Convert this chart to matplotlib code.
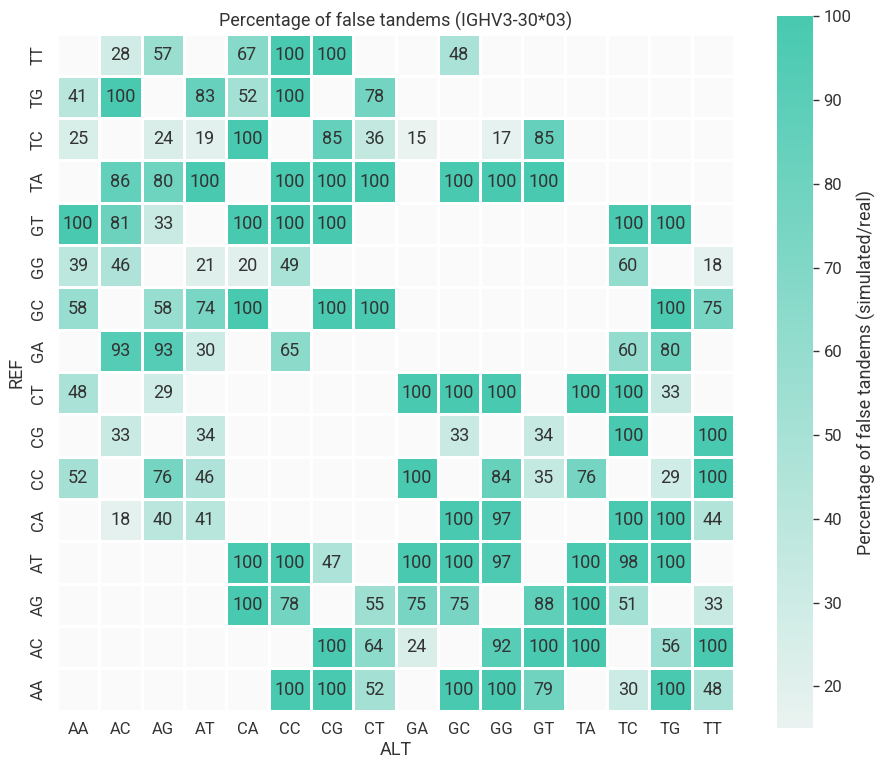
import numpy as np
import matplotlib
matplotlib.use("Agg")
import matplotlib.pyplot as plt
import seaborn as sns

# data
ref = ["TT", "TG", "TC", "TA", "GT", "GG", "GC", "GA",
       "CT", "CG", "CC", "CA", "AT", "AG", "AC", "AA"]
alt = ["AA", "AC", "AG", "AT", "CA", "CC", "CG", "CT",
       "GA", "GC", "GG", "GT", "TA", "TC", "TG", "TT"]
n = None
values = [
    [n, 28, 57, n, 67, 100, 100, n, n, 48, n, n, n, n, n, n],       # TT
    [41, 100, n, 83, 52, 100, n, 78, n, n, n, n, n, n, n, n],       # TG
    [25, n, 24, 19, 100, n, 85, 36, 15, n, 17, 85, n, n, n, n],     # TC
    [n, 86, 80, 100, n, 100, 100, 100, n, 100, 100, 100, n, n, n, n],  # TA
    [100, 81, 33, n, 100, 100, 100, n, n, n, n, n, n, 100, 100, n],  # GT
    [39, 46, n, 21, 20, 49, n, n, n, n, n, n, n, 60, n, 18],        # GG
    [58, n, 58, 74, 100, n, 100, 100, n, n, n, n, n, n, 100, 75],   # GC
    [n, 93, 93, 30, n, 65, n, n, n, n, n, n, n, 60, 80, n],         # GA
    [48, n, 29, n, n, n, n, n, 100, 100, 100, n, 100, 100, 33, n],  # CT
    [n, 33, n, 34, n, n, n, n, n, 33, n, 34, n, 100, n, 100],       # CG
    [52, n, 76, 46, n, n, n, n, 100, n, 84, 35, 76, n, 29, 100],    # CC
    [n, 18, 40, 41, n, n, n, n, n, 100, 97, n, n, 100, 100, 44],    # CA
    [n, n, n, n, 100, 100, 47, n, 100, 100, 97, n, 100, 98, 100, n],  # AT
    [n, n, n, n, 100, 78, n, 55, 75, 75, n, 88, 100, 51, n, 33],    # AG
    [n, n, n, n, n, n, 100, 64, 24, n, 92, 100, 100, n, 56, 100],   # AC
    [n, n, n, n, n, 100, 100, 52, n, 100, 100, 79, n, 30, 100, 48], # AA
]

plt.rcParams["font.family"] = ["Roboto", "DejaVu Sans"]
txt = "#333333"

arr = np.array([[np.nan if v is None else v for v in row] for row in values], dtype=float)
data = np.ma.masked_invalid(arr)

cmap = sns.light_palette("#48c9b0", as_cmap=True)
cmap.set_bad("#fafafa")

fig = plt.figure(figsize=(8.77, 7.6), dpi=100)
ax = fig.add_axes([0.065, 0.0649, 0.772, 0.891])
cax = fig.add_axes([0.886, 0.0417, 0.041, 0.937])

mesh = ax.pcolormesh(data, cmap=cmap, vmin=15, vmax=100,
                     edgecolors="white", linewidth=1)
ax.set_xlim(0, len(alt))
ax.set_ylim(len(ref), 0)

for i in range(len(ref)):
    for j in range(len(alt)):
        if not np.isnan(arr[i, j]):
            ax.text(j + 0.5, i + 0.5, f"{int(arr[i, j])}", ha="center", va="center",
                    fontsize=13, color=txt)

ax.set_xticks(np.arange(len(alt)) + 0.5)
ax.set_xticklabels(alt, fontsize=12, color=txt)
ax.set_yticks(np.arange(len(ref)) + 0.5)
ax.set_yticklabels(ref, fontsize=12, color=txt, rotation=90, va="center")
ax.tick_params(length=0, pad=8)
for s in ax.spines.values():
    s.set_visible(False)
ax.set_xlabel("ALT", fontsize=13, color=txt, labelpad=3)
ax.set_ylabel("REF", fontsize=13, color=txt, labelpad=4)
ax.set_title("Percentage of false tandems (IGHV3-30*03)", fontsize=13, color=txt, pad=5)

cb = fig.colorbar(mesh, cax=cax)
cb.outline.set_visible(False)
cb.set_ticks([20, 30, 40, 50, 60, 70, 80, 90, 100])
cb.ax.tick_params(labelsize=12, colors=txt, length=4, width=1)
cb.set_label("Percentage of false tandems (simulated/real)", fontsize=13, color=txt, labelpad=4)

fig.savefig("out.png", dpi=100)
